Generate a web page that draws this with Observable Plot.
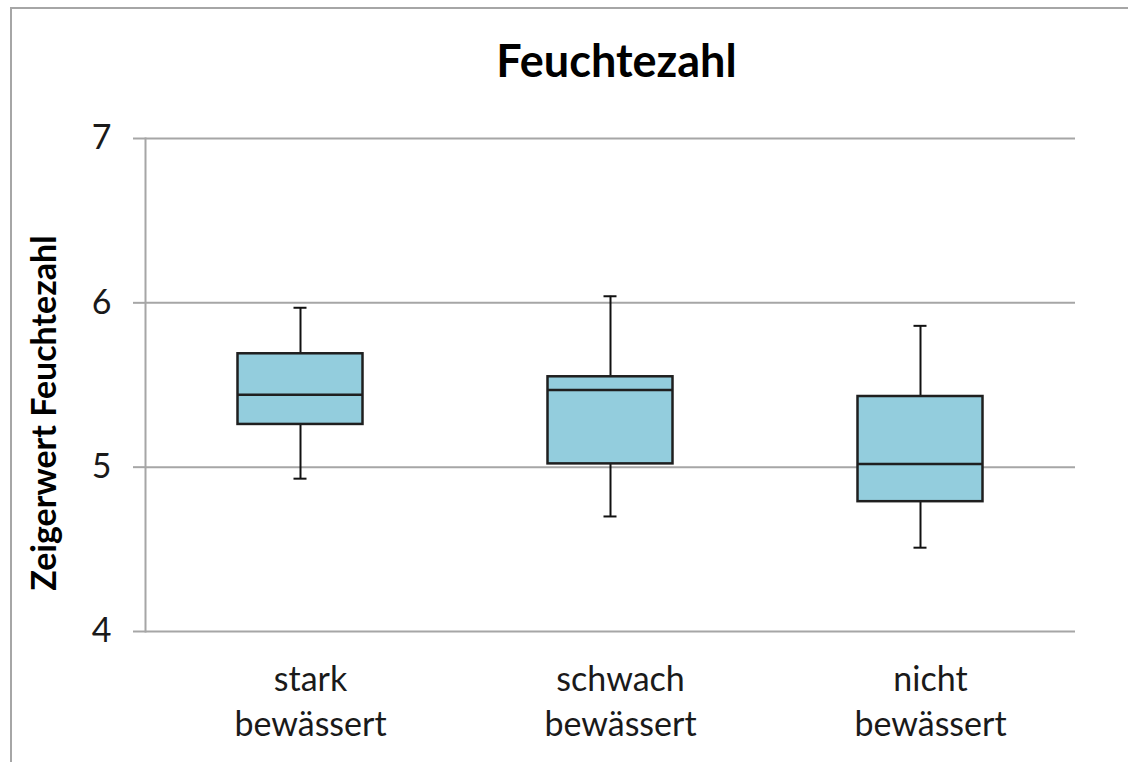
<!DOCTYPE html>
<html>
<head>
<meta charset="utf-8">
<script src="https://cdn.jsdelivr.net/npm/d3@7"></script>
<script src="https://cdn.jsdelivr.net/npm/@observablehq/plot@0.6"></script>
<style>
  html, body { margin: 0; padding: 0; background: #fff; overflow: hidden; }
  #wrap { position: relative; width: 1128px; height: 762px; overflow: hidden; }
  #topline { position: absolute; left: 10px; top: 7px; width: 1118px; height: 2px; background: #a6a6a6; }
  #leftline { position: absolute; left: 10px; top: 7px; width: 2px; height: 755px; background: #a6a6a6; }
  #chart { position: absolute; left: 0; top: 0; }
</style>
</head>
<body>
<div id="wrap"><div id="topline"></div><div id="leftline"></div><div id="chart"></div></div>
<script>
const categories = ["stark bewässert", "schwach bewässert", "nicht bewässert"];
const tickLabels = ["stark\nbewässert", "schwach\nbewässert", "nicht\nbewässert"];
const whiskerLow = [4.93, 4.70, 4.51];
const q1 = [5.26, 5.02, 4.79];
const median = [5.44, 5.47, 5.02];
const q3 = [5.69, 5.55, 5.43];
const whiskerHigh = [5.97, 6.04, 5.86];
const yTicks = [4, 5, 6, 7];
const title = "Feuchtezahl";
const yLabel = "Zeigerwert Feuchtezahl";

const rows = categories.map((c, i) => ({
  cat: c, lo: whiskerLow[i], q1: q1[i], med: median[i], q3: q3[i], hi: whiskerHigh[i]
}));

const boxInset = 92.5;
const capInset = 148.5;
const font = "Lato, 'Open Sans', sans-serif";

const chart = Plot.plot({
  width: 1128,
  height: 762,
  marginLeft: 145,
  marginRight: 53,
  marginTop: 138,
  marginBottom: 131,
  style: { background: "transparent", fontFamily: font, color: "#1a1a1a" },
  x: { domain: categories, padding: 0, axis: null },
  y: { domain: [4, 7], axis: null },
  marks: [
    Plot.ruleY(yTicks, { stroke: "#a6a6a6", strokeWidth: 2 }),
    Plot.frame({ anchor: "left", stroke: "#a6a6a6", strokeWidth: 2 }),
    Plot.axisY({ ticks: yTicks, tickFormat: "d", tickSize: 12, tickPadding: 22, stroke: "#a6a6a6", strokeWidth: 2, fill: "#1a1a1a", fontSize: 34, label: null }),
    Plot.axisX({ tickSize: 0, tickPadding: 27, dx: 10, fontSize: 34, lineHeight: 1.33, fill: "#1a1a1a", label: null,
      tickFormat: d => tickLabels[categories.indexOf(d)] }),
    Plot.ruleX(rows, { x: "cat", y1: "lo", y2: "hi", stroke: "#111", strokeWidth: 2 }),
    Plot.barY(rows, { x: "cat", y1: "q1", y2: "q3", fill: "#93cddd", stroke: "#1f1f1f", strokeWidth: 2.5, insetLeft: boxInset, insetRight: boxInset }),
    Plot.tickY(rows, { x: "cat", y: "med", stroke: "#1f1f1f", strokeWidth: 2.5, insetLeft: boxInset, insetRight: boxInset }),
    Plot.tickY(rows, { x: "cat", y: "hi", stroke: "#111", strokeWidth: 2, insetLeft: capInset, insetRight: capInset }),
    Plot.tickY(rows, { x: "cat", y: "lo", stroke: "#111", strokeWidth: 2, insetLeft: capInset, insetRight: capInset }),
    Plot.text([title], { frameAnchor: "top", dx: 6, dy: -76, fontSize: 45, fontWeight: "bold", fill: "#000", lineAnchor: "middle" }),
    Plot.text([yLabel], { frameAnchor: "left", textAnchor: "middle", dx: -100, dy: 28, rotate: -90, fontSize: 34, fontWeight: "bold", fill: "#000", lineAnchor: "middle" })
  ]
});
document.getElementById("chart").appendChild(chart);
</script>
</body>
</html>
